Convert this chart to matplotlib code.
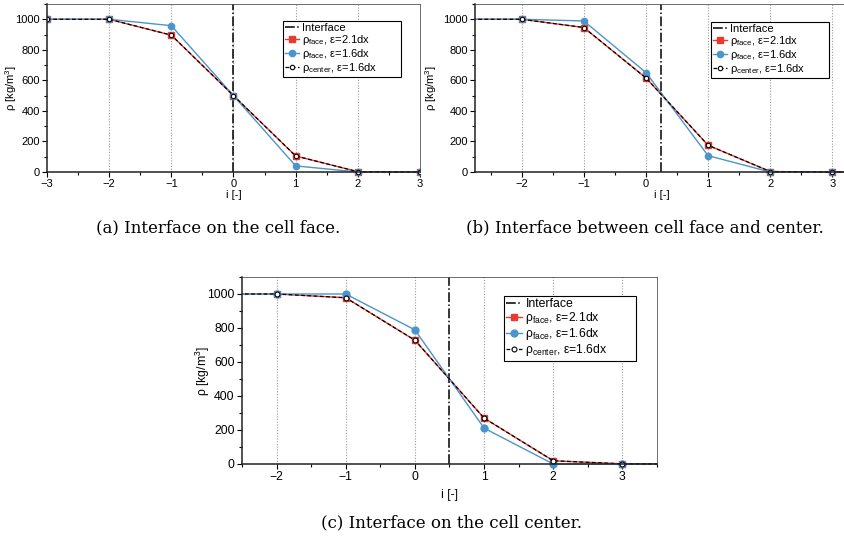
import matplotlib
matplotlib.use("Agg")
import matplotlib.pyplot as plt
from matplotlib.ticker import MultipleLocator
from matplotlib.transforms import Bbox, TransformedBbox

plt.rcParams['font.family'] = ['Liberation Sans', 'DejaVu Sans']
plt.rcParams['mathtext.default'] = 'regular'

# cell index
i_vals = [-3, -2, -1, 0, 1, 2, 3, 4]

# (a) interface on the cell face
face21_a = [1000, 1000, 896, 500, 105, 2, 0, 0]
face16_a = [1000, 1000, 958, 500, 40, 0, 0, 0]
center16_a = [1000, 1000, 896, 500, 105, 2, 0, 0]
iface_a = 0.0

# (b) interface between cell face and center
face21_b = [1000, 1000, 946, 616, 175, 3, 0, 0]
face16_b = [1000, 1000, 989, 651, 107, 0, 0, 0]
center16_b = [1000, 1000, 946, 616, 175, 3, 0, 0]
iface_b = 0.25

# (c) interface on the cell center
face21_c = [1000, 1000, 978, 728, 270, 19, 1, 0]
face16_c = [1000, 1000, 1000, 789, 211, 0, 0, 0]
center16_c = [1000, 1000, 978, 728, 270, 19, 1, 0]
iface_c = 0.5

labels = ['Interface',
          r'ρ$_{face}$, ε=2.1dx',
          r'ρ$_{face}$, ε=1.6dx',
          r'ρ$_{center}$, ε=1.6dx']
captions = ['(a) Interface on the cell face.',
            '(b) Interface between cell face and center.',
            '(c) Interface on the cell center.']

RED = '#e83a2e'
BLUE = '#4b95cc'

W, H = 845, 540
fig = plt.figure(figsize=(W / 100, H / 100), dpi=100)


def px_axes(l, t, r, b):
    return fig.add_axes([l / W, 1 - b / H, (r - l) / W, (b - t) / H])


def draw(ax, box, xlim, iface, f21, f16, c16, leg_px, ylab_x, xlab_y, s=1.0):
    l, t, r, b = box
    ax.set_xlim(*xlim)
    ax.set_ylim(0, 1100)
    for k in range(-3, 5):
        if xlim[0] < k < xlim[1]:
            ax.axvline(k, color='#999999', lw=0.8, ls=(0, (1, 1.5)), zorder=0)
    clip = TransformedBbox(Bbox([[0, -0.1], [1, 1.1]]), ax.transAxes)
    h0 = ax.axvline(iface, color='black', lw=1.1, ls='-.', zorder=1)
    h1, = ax.plot(i_vals, f21, color=RED, lw=1.0, marker='s', ms=4.5 * s, mfc=RED, mec=RED)
    h2, = ax.plot(i_vals, f16, color=BLUE, lw=1.0, marker='o', ms=4.5 * s, mfc=BLUE, mec=BLUE)
    h3, = ax.plot(i_vals, c16, color='black', lw=0.9, ls=(0, (3, 2)), marker='o', ms=3.2 * s,
                  mfc='white', mec='black', mew=0.8)
    for h in (h1, h2, h3):
        h.set_clip_box(clip)
    ax.xaxis.set_major_locator(MultipleLocator(1))
    ax.xaxis.set_minor_locator(MultipleLocator(0.5))
    ax.yaxis.set_major_locator(MultipleLocator(200))
    ax.yaxis.set_minor_locator(MultipleLocator(100))
    ax.set_yticks(range(0, 1001, 200))
    ax.tick_params(which='both', direction='out', labelsize=8 * s, top=False, right=False, width=0.8)
    ax.tick_params(which='major', length=3.5 * s, pad=1.5)
    ax.tick_params(which='minor', length=2 * s)
    for sp in ('left', 'bottom'):
        ax.spines[sp].set_linewidth(1.1)
        ax.spines[sp].set_color('#222222')
    for sp in ('top', 'right'):
        ax.spines[sp].set_linewidth(0.6)
        ax.spines[sp].set_color('#555555')
    ax.set_xlabel('i [-]', fontsize=8 * s)
    ax.set_ylabel('ρ [kg/m$^3$]', fontsize=8 * s)
    ax.yaxis.set_label_coords(ylab_x, 0.5)
    ax.xaxis.set_label_coords(0.5, xlab_y)
    # legend box given in pixels: left, top, right
    ll, lt, lr = leg_px
    x0 = (ll - l) / (r - l)
    w = (lr - ll) / (r - l)
    ytop = (b - lt) / (b - t)
    leg = ax.legend([h0, h1, h2, h3], labels, loc='upper left', mode='expand',
                    bbox_to_anchor=(x0, 0, w, ytop),
                    fontsize=8 * s, frameon=True, fancybox=False, framealpha=1,
                    edgecolor='black', handlelength=1.25, handletextpad=0.3,
                    borderpad=0.2, labelspacing=0.0, borderaxespad=0)
    leg.get_frame().set_linewidth(0.8)


box_a = (47, 4, 420, 172)
ax_a = px_axes(*box_a)
draw(ax_a, box_a, (-3, 3), iface_a, face21_a, face16_a, center16_a,
     (283, 21, 401), -0.075, -0.11)

box_b = (475, 4, 848, 172)
ax_b = px_axes(*box_b)
draw(ax_b, box_b, (-2.75, 3.25), iface_b, face21_b, face16_b, center16_b,
     (711, 22, 829), -0.097, -0.11)

box_c = (242, 277, 657, 464)
ax_c = px_axes(*box_c)
draw(ax_c, box_c, (-2.5, 3.5), iface_c, face21_c, face16_c, center16_c,
     (504, 296, 636), -0.072, -0.135, s=1.1)

cap_kw = dict(fontsize=12, family='DejaVu Serif', ha='center', va='center')
fig.text(218 / W, 1 - 228 / H, captions[0], **cap_kw)
fig.text(645 / W, 1 - 228 / H, captions[1], **cap_kw)
fig.text(452 / W, 1 - 523 / H, captions[2], **cap_kw)

fig.savefig('out.png', dpi=100)
